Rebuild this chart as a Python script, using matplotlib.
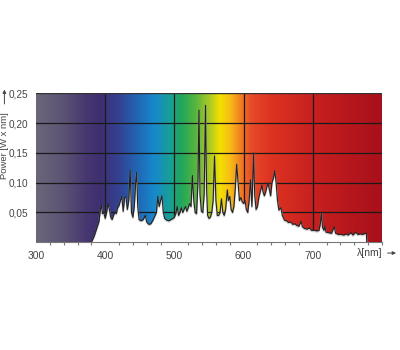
import numpy as np
import matplotlib
matplotlib.use("Agg")
import matplotlib.pyplot as plt
from matplotlib.colors import LinearSegmentedColormap, to_rgb
from matplotlib.ticker import MultipleLocator, FuncFormatter

plt.rcParams['font.family'] = ['Liberation Sans', 'DejaVu Sans']

wavelength = [380, 384, 388, 391, 393, 394.5, 396, 398, 400, 402, 404, 406, 408, 410, 412, 414, 416, 418,
              420, 422, 424, 426, 428, 430, 432, 434, 436, 438, 440, 442, 444, 445.5, 447, 449, 452, 455,
              458, 460, 463, 466, 469, 472, 474, 476, 478, 480, 482, 484, 486, 489, 492, 495, 498, 500,
              502, 504, 506, 508, 510, 512, 514, 516, 518, 520, 522, 524, 526, 528, 530, 532, 534, 535.5,
              537, 539, 541, 543, 545, 546.5, 548, 550, 552, 554, 556, 558, 560, 562, 564, 566, 568, 570,
              572, 574, 576.5, 578, 580, 582, 584, 586, 588, 590, 592, 594, 596, 598, 600, 602, 604, 606,
              608, 610, 612, 614.5, 616, 618, 620, 622, 624, 626.5, 628, 630, 632, 635, 637, 639, 641,
              643.5, 645, 647, 649, 651, 654, 656, 659, 662, 665, 668, 671, 674, 677, 680, 683, 685, 688,
              692, 695, 698, 702, 706, 709, 711, 712.5, 714, 716, 717.5, 719, 723, 727, 731, 733, 737,
              741, 745, 748, 751, 755, 758, 762, 765, 769, 772, 776, 777.5, 778]
power = [0, 0.01, 0.024, 0.035, 0.055, 0.062, 0.048, 0.05, 0.04, 0.05, 0.065, 0.055, 0.042, 0.038, 0.045,
         0.05, 0.048, 0.058, 0.062, 0.07, 0.077, 0.052, 0.075, 0.076, 0.055, 0.07, 0.121, 0.05, 0.042, 0.06,
         0.1, 0.117, 0.06, 0.038, 0.036, 0.038, 0.045, 0.034, 0.03, 0.031, 0.037, 0.045, 0.05, 0.077, 0.06,
         0.07, 0.078, 0.05, 0.04, 0.037, 0.036, 0.038, 0.04, 0.042, 0.048, 0.06, 0.045, 0.05, 0.058, 0.05,
         0.055, 0.06, 0.052, 0.058, 0.065, 0.06, 0.112, 0.07, 0.05, 0.048, 0.1, 0.222, 0.08, 0.052, 0.05,
         0.08, 0.23, 0.09, 0.045, 0.04, 0.042, 0.05, 0.07, 0.145, 0.07, 0.045, 0.045, 0.05, 0.073, 0.05,
         0.045, 0.055, 0.088, 0.07, 0.077, 0.055, 0.05, 0.06, 0.09, 0.131, 0.1, 0.07, 0.075, 0.068, 0.065,
         0.07, 0.055, 0.05, 0.07, 0.105, 0.06, 0.15, 0.08, 0.055, 0.06, 0.075, 0.085, 0.096, 0.085, 0.078,
         0.085, 0.1, 0.09, 0.078, 0.1, 0.11, 0.12, 0.1, 0.07, 0.054, 0.058, 0.045, 0.037, 0.036, 0.033,
         0.034, 0.03, 0.031, 0.028, 0.027, 0.035, 0.026, 0.023, 0.022, 0.024, 0.02, 0.02, 0.019, 0.02,
         0.032, 0.05, 0.025, 0.02, 0.027, 0.017, 0.016, 0.015, 0.026, 0.015, 0.013, 0.013, 0.012, 0.014,
         0.012, 0.016, 0.012, 0.017, 0.013, 0.014, 0.013, 0.015, 0.015, 0]

x_ticks = [300, 400, 500, 600, 700]
y_ticks = [0.05, 0.10, 0.15, 0.20, 0.25]

# background spectrum gradient stops
grad_wl = [300, 340, 375, 392, 420, 450, 470, 492, 510, 530, 550, 566, 582, 597, 612, 640, 700, 800]
grad_col = ['#6b6679', '#5b5274', '#463570', '#3d2f70', '#344294', '#1f6cb8', '#1788cc', '#179e9a',
            '#22a65c', '#55b440', '#a8c828', '#f4e000', '#f8b818', '#f07a22', '#e84a28', '#dd3322',
            '#c8201f', '#a8101b']

fig = plt.figure(figsize=(4, 3.5), dpi=100)
ax = fig.add_axes([0.09, 0.308, 0.865, 0.425])

xmin, xmax = 300, 800
stops = [(w - xmin) / (xmax - xmin) for w in grad_wl]
cmap = LinearSegmentedColormap.from_list('spec', list(zip(stops, [to_rgb(c) for c in grad_col])))
grad = np.linspace(0, 1, 1000).reshape(1, -1)
ax.imshow(grad, cmap=cmap, extent=[xmin, xmax, 0, 0.25], aspect='auto', zorder=0, interpolation='bilinear')

for yv in y_ticks[:-1]:
    ax.axhline(yv, color='#1a1a1a', lw=0.9, zorder=1)
for xv in x_ticks[1:]:
    ax.axvline(xv, color='#1a1a1a', lw=0.9, zorder=1)
ax.axhline(0.25, color='#333333', lw=1.0, zorder=1)

ax.fill_between(wavelength, power, 0, color='white', zorder=2, lw=0)
ax.plot(wavelength, np.array(power) - 0.0015, color='#999999', lw=1.4, alpha=0.45, zorder=3)
ax.plot(wavelength, power, color='#222222', lw=0.8, zorder=4)

ax.set_xlim(xmin, xmax)
ax.set_ylim(0, 0.25)
for s in ['top', 'right', 'left']:
    ax.spines[s].set_visible(False)
ax.spines['bottom'].set_color('#777777')
ax.spines['bottom'].set_linewidth(0.8)

ax.set_xticks(x_ticks)
ax.xaxis.set_minor_locator(MultipleLocator(20))
ax.tick_params(axis='x', which='major', length=0, pad=6, labelsize=7.5, labelcolor='#444444')
ax.tick_params(axis='x', which='minor', length=2.5, color='#777777', width=0.8)
ax.set_yticks(y_ticks)
ax.yaxis.set_major_formatter(FuncFormatter(lambda v, p: f"{v:.2f}".replace('.', ',')))
ax.tick_params(axis='y', length=0, pad=5.5, labelsize=7.2, labelcolor='#444444')

fig.text(0.011, 0.585, 'Power [W x nm]', rotation=90, ha='center', va='center', fontsize=6.8, color='#444444')
fig.patches.append(matplotlib.patches.FancyArrowPatch((0.011, 0.695), (0.011, 0.752), transform=fig.transFigure,
                   arrowstyle='-|>', mutation_scale=5, color='#444444', lw=0.7))

fig.text(0.925, 0.277, 'λ[nm]', ha='center', va='center', fontsize=7.5, color='#444444')
fig.patches.append(matplotlib.patches.FancyArrowPatch((0.962, 0.277), (0.997, 0.277), transform=fig.transFigure,
                   arrowstyle='-|>', mutation_scale=5, color='#444444', lw=0.7))

fig.savefig('out.png', dpi=100)
